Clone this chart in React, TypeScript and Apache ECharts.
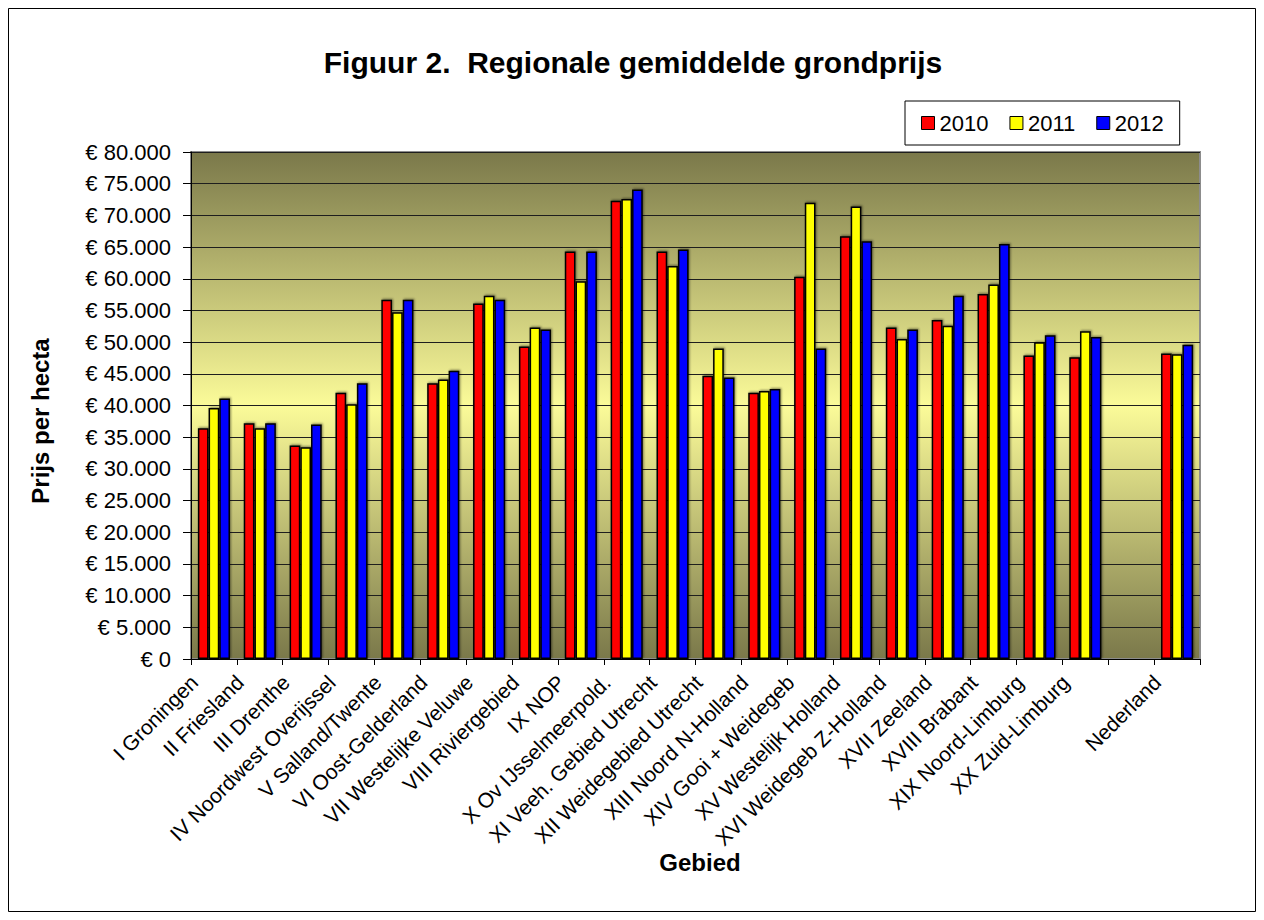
import React, { useEffect, useRef } from "react";
import * as echarts from "echarts";

const categories = [
  "I Groningen",
  "II Friesland",
  "III Drenthe",
  "IV Noordwest Overijssel",
  "V Salland/Twente",
  "VI Oost-Gelderland",
  "VII Westelijke Veluwe",
  "VIII Riviergebied",
  "IX NOP",
  "X Ov IJsselmeerpold.",
  "XI Veeh. Gebied Utrecht",
  "XII Weidegebied Utrecht",
  "XIII Noord N-Holland",
  "XIV Gooi + Weidegeb",
  "XV Westelijk Holland",
  "XVI Weidegeb Z-Holland",
  "XVII Zeeland",
  "XVIII Brabant",
  "XIX Noord-Limburg",
  "XX Zuid-Limburg",
  "",
  "Nederland",
];

const seriesNames = ["2010", "2011", "2012"];

const values2010 = [36400, 37200, 33700, 42000, 56700, 43500, 56100, 49300, 64300, 72300, 64300, 44700, 42000, 60300, 66700, 52300, 53500, 57600, 47900, 47600, null, 48200];
const values2011 = [39600, 36400, 33400, 40200, 54700, 44100, 57300, 52300, 59600, 72600, 62000, 49000, 42300, 72000, 71400, 50500, 52600, 59100, 50000, 51700, null, 48100];
const values2012 = [41100, 37200, 37000, 43500, 56700, 45500, 56700, 52000, 64300, 74100, 64600, 44400, 42600, 49000, 65900, 52000, 57300, 65500, 51100, 50800, null, 49600];

const seriesColors = ["#ff0000", "#ffff00", "#0000ff"];

const titleText = "Figuur 2.  Regionale gemiddelde grondprijs";
const yAxisTitle = "Prijs per hecta";
const xAxisTitle = "Gebied";

const FONT = "'Liberation Sans', Arial, Helvetica, sans-serif";

function fmtEuro(v: number): string {
  const s = String(Math.round(v)).replace(/\B(?=(\d{3})+(?!\d))/g, ".");
  return "€ " + s;
}

export default function App() {
  const ref = useRef<HTMLDivElement>(null);

  useEffect(() => {
    if (!ref.current) return;
    const chart = echarts.init(ref.current, undefined, { renderer: "svg" });
    const allValues = [values2010, values2011, values2012];

    const option: any = {
      animation: false,
      backgroundColor: "#ffffff",
      textStyle: { fontFamily: FONT, color: "#000" },
      grid: {
        left: 183,
        top: 144,
        width: 1009,
        height: 507,
        show: true,
        borderColor: "#8c8c8c",
        borderWidth: 2,
        backgroundColor: new echarts.graphic.LinearGradient(0, 0, 0, 1, [
          { offset: 0, color: "#7a784a" },
          { offset: 0.5, color: "#fbfb99" },
          { offset: 1, color: "#7a784a" },
        ]),
      },
      legend: {
        data: seriesNames,
        left: 897,
        top: 93,
        orient: "horizontal",
        padding: [11, 16, 11, 16],
        itemWidth: 13,
        itemHeight: 13,
        itemGap: 21,
        icon: "rect",
        borderColor: "#000",
        borderWidth: 1,
        backgroundColor: "#fff",
        itemStyle: { borderColor: "#000", borderWidth: 1, shadowBlur: 0, shadowOffsetX: 0, shadowOffsetY: 0 },
        textStyle: { fontSize: 22, color: "#000", fontFamily: FONT },
      },
      xAxis: {
        type: "category",
        data: categories,
        boundaryGap: true,
        axisLine: { show: true, lineStyle: { color: "#000", width: 1 } },
        axisTick: { show: true, length: 6, alignWithLabel: false, interval: 0, lineStyle: { color: "#000" } },
        axisLabel: {
          interval: 0,
          rotate: 45,
          fontSize: 21,
          color: "#000",
          fontFamily: FONT,
          margin: 0,
          padding: [0, 28, 0, 0],
        },
        splitLine: { show: false },
      },
      yAxis: {
        type: "value",
        min: 0,
        max: 80000,
        interval: 5000,
        axisLine: { show: true, lineStyle: { color: "#000", width: 1 } },
        axisTick: { show: true, length: 8, inside: false, lineStyle: { color: "#000" } },
        axisLabel: {
          fontSize: 22,
          color: "#000",
          fontFamily: FONT,
          margin: 20,
          formatter: (v: number) => fmtEuro(v),
        },
        splitLine: { show: true, lineStyle: { color: "#1e1e1e", width: 1 } },
      },
      series: seriesNames.map((name, i) => ({
        name,
        type: "bar",
        data: allValues[i],
        barGap: "0%",
        barCategoryGap: "30%",
        itemStyle: {
          color: seriesColors[i],
          borderColor: "#000",
          borderWidth: 1.5,
          shadowColor: "rgba(0,0,0,0.45)",
          shadowBlur: 2,
          shadowOffsetX: 1,
          shadowOffsetY: -1,
        },
      })),
      graphic: [
        {
          type: "rect",
          silent: true,
          shape: { x: 0.5, y: 0.5, width: 1247, height: 903 },
          style: { fill: "none", stroke: "#000", lineWidth: 1 },
          z: 100,
        },
        {
          type: "text",
          x: 625,
          y: 54,
          style: {
            text: titleText,
            font: `bold 30px ${FONT}`,
            fill: "#000",
            textAlign: "center",
            textVerticalAlign: "middle",
          },
        },
        {
          type: "text",
          x: 32,
          y: 413,
          rotation: Math.PI / 2,
          style: {
            text: yAxisTitle,
            font: `bold 24px ${FONT}`,
            fill: "#000",
            textAlign: "center",
            textVerticalAlign: "middle",
          },
        },
        {
          type: "text",
          x: 692,
          y: 854,
          style: {
            text: xAxisTitle,
            font: `bold 24px ${FONT}`,
            fill: "#000",
            textAlign: "center",
            textVerticalAlign: "middle",
          },
        },
      ],
    };

    chart.setOption(option);
    return () => {
      chart.dispose();
    };
  }, []);

  return <div ref={ref} style={{ width: 1248, height: 904 }} />;
}
